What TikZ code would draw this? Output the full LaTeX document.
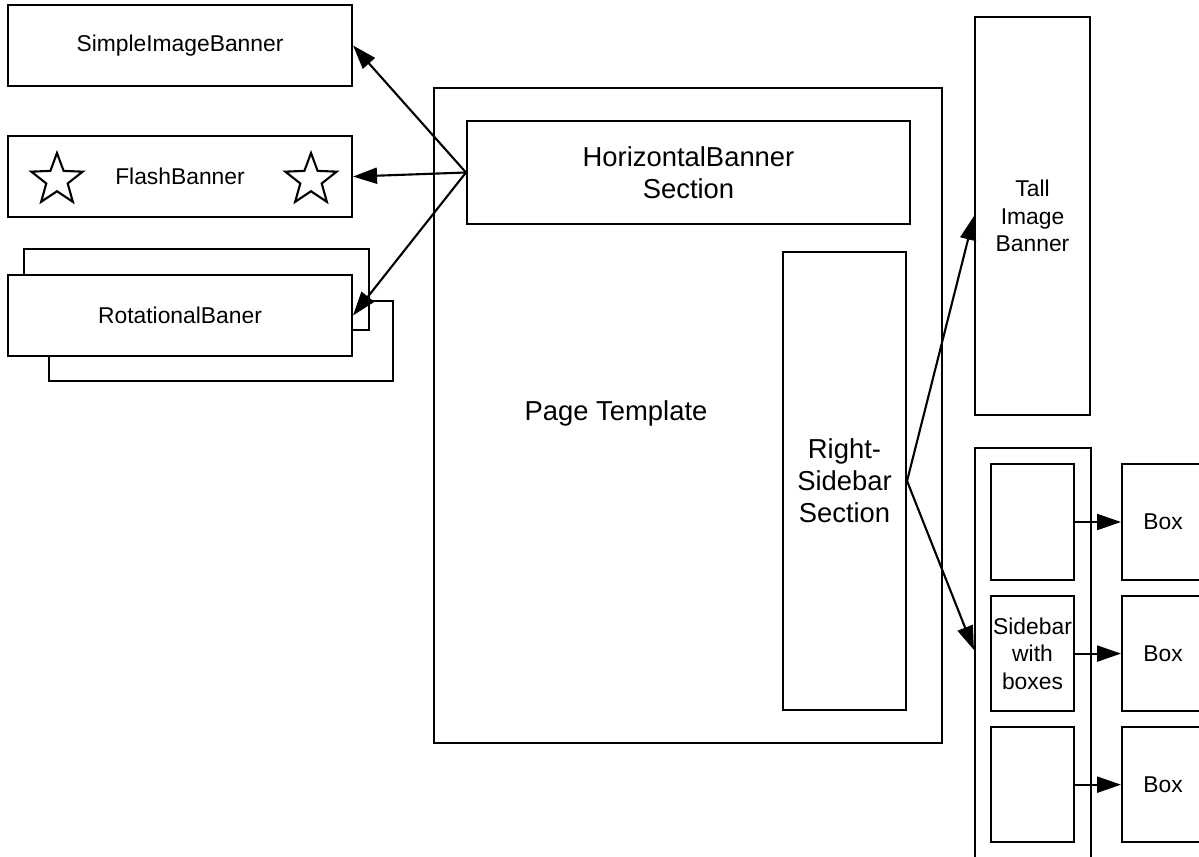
\documentclass[tikz,border=0pt]{standalone}
\usepackage{fontspec}
\setmainfont{Liberation Sans}
\usetikzlibrary{positioning,shapes.geometric,arrows.meta}
\tikzset{node distance=1cm, auto,
  blk/.style={draw, line width=1.2pt, fill=white, inner sep=0pt, align=center,
    font=\fontsize{13}{15.6}\selectfont},
  big/.style={font=\fontsize{15.6}{18.2}\selectfont, align=center},
  strs/.style={star, star points=5, star point ratio=2.4, draw, line width=1.2pt,
    minimum size=1.08cm, inner sep=0pt},
  arr/.style={-{Triangle[length=0.48cm,width=0.32cm]}, line width=1.2pt}}

\begin{document}
\begin{tikzpicture}[x=0.02cm,y=-0.02cm]
  \useasboundingbox (0,0) rectangle (1199,857);
  \clip (0,0) rectangle (1199,857);
  % banners on the left
  \node[blk, minimum width=6.88cm, minimum height=1.62cm] (S) at (180,45.5) {SimpleImageBanner};
  \node[blk, minimum width=6.88cm, minimum height=1.62cm, below=0.96cm of S] (F) {FlashBanner};
  \node[strs] (F1) at (57,180) {};
  \node[strs] (F2) at (311,180) {};
  \node[blk, minimum width=6.88cm, minimum height=1.6cm] (R2) at (221,341) {};
  \node[blk, minimum width=6.9cm, minimum height=1.62cm] (R1) at (196.5,289.5) {};
  \node[blk, minimum width=6.88cm, minimum height=1.62cm] (R) at (180,315.5) {RotationalBaner};
  % page template
  \node[blk, minimum width=10.16cm, minimum height=13.1cm] (P) at (688,415.5) {};
  \node[big] (PT) at (616,413) {Page Template};
  \node[blk, big, minimum width=8.86cm, minimum height=2.06cm] (H) at (688.5,172.5) {HorizontalBanner\\Section};
  \node[blk, big, minimum width=2.46cm, minimum height=9.16cm] (RS) at (844.5,481) {Right-\\Sidebar\\Section};
  % right side
  \node[blk, minimum width=2.3cm, minimum height=7.96cm] (T) at (1032.5,216) {Tall\\Image\\Banner};
  \node[blk, minimum width=2.32cm, minimum height=8.52cm] (SB) at (1033,661) {};
  \node[blk, minimum width=1.66cm, minimum height=2.32cm] (I1) at (1032.5,522) {};
  \node[blk, minimum width=1.66cm, minimum height=2.3cm, below=0.28cm of I1] (I2) {Sidebar\\with\\boxes};
  \node[blk, minimum width=1.66cm, minimum height=2.3cm, below=0.28cm of I2] (I3) {};
  \node[blk, minimum width=1.64cm, minimum height=2.32cm, right=0.92cm of I1] (B1) {Box};
  \node[blk, minimum width=1.64cm, minimum height=2.3cm, right=0.92cm of I2] (B2) {Box};
  \node[blk, minimum width=1.64cm, minimum height=2.3cm, right=0.92cm of I3] (B3) {Box};

  \draw[arr] (H.west) -- (S.east);
  \draw[arr] (H.west) -- (F.east);
  \draw[arr] (H.west) -- (R.east);
  \draw[arr] (RS.east) -- (T.west);
  \draw[arr] (RS.east) -- ([yshift=0.22cm]SB.west);
  \foreach \i in {1,2,3}
    \draw[arr] (I\i.east) -- (B\i.west);
\end{tikzpicture}
\end{document}
